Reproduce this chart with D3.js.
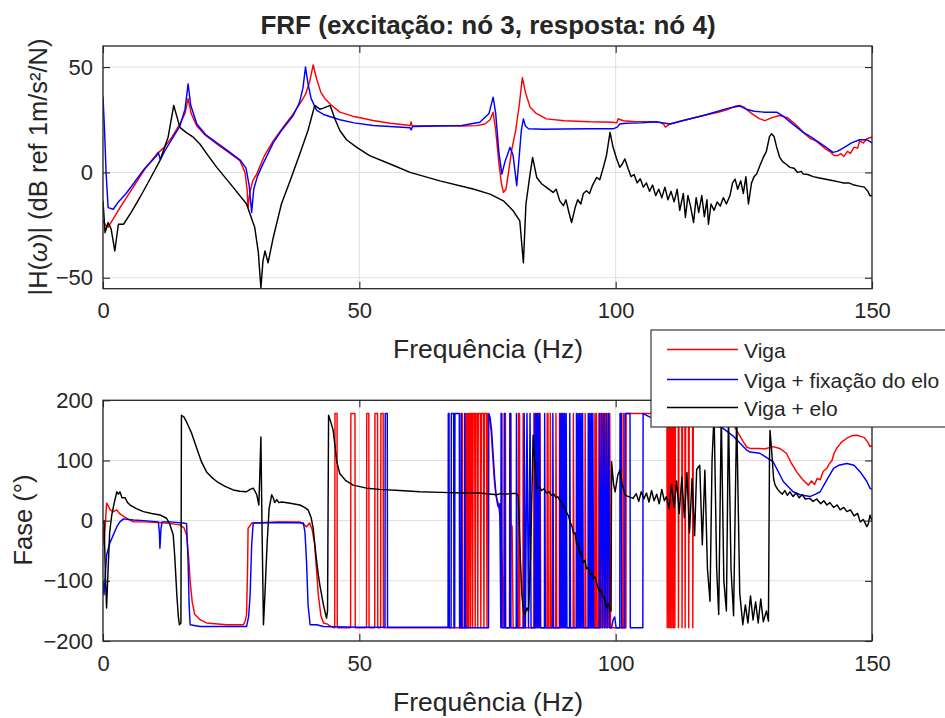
<!DOCTYPE html>
<html><head><meta charset="utf-8">
<script src="https://cdn.jsdelivr.net/npm/d3@7"></script>
<style>
body{margin:0;background:#fff}
svg{display:block}
text{font-family:"Liberation Sans",Arial,Helvetica,sans-serif;fill:#262626}
</style>
</head><body>
<svg id="c" width="945" height="718"></svg>
<script>
// ---------- data ----------
const xTicks = [0, 50, 100, 150];
const magTicks = [-50, 0, 50];
const phaseTicks = [-200, -100, 0, 100, 200];
const seriesNames = ["Viga", "Viga + fixação do elo", "Viga + elo"];
const titleText = "FRF (excitação: nó 3, resposta: nó 4)";
const xLabelText = "Frequência (Hz)";
const phaseLabelText = "Fase (°)";

// magnitude |H| in dB  [Hz, dB]
const magViga = [[0,-23],[0.5,-25],[1.0,-26],[2,-22],[3.5,-16],[5.9,-7],[8,1],[10.5,8.8],[12,12],[13.5,17],[15,23],[16.0,28],[16.6,35],[17.2,28],[18.3,22],[20,17.5],[22.2,13.5],[24.5,9.5],[26.7,5.6],[27.7,0],[28.1,-8],[28.3,-16.7],[28.6,-10],[29.2,-4],[30,-0.7],[31.5,8],[33.2,15],[35,21],[37.1,27.8],[38.5,33],[39.5,37],[40.3,43],[41.0,51],[41.6,45],[42.5,38],[43.3,35],[44.5,32],[46.2,28.6],[49,26.5],[52.7,24.6],[56,23.3],[59.2,22.5],[59.9,22.2],[60.1,24],[60.3,22],[65,22.2],[70,22],[72.9,22.2],[74.5,23],[75.5,25],[76.1,28.6],[76.6,20],[77.2,5],[77.7,-5],[78.1,-9.5],[78.6,-8],[79.1,0],[79.7,10.3],[80.5,20],[81.2,32],[81.8,45],[82.4,38],[83.3,31],[84.5,28],[86.5,25.4],[90,24.5],[95,24],[99.5,23.8],[100.2,23.5],[100.5,25.5],[100.8,25.1],[101.5,24.5],[104,24],[107,24],[108.5,23.8],[109.3,23],[109.7,21.5],[110.6,23],[113,24.5],[117.1,27],[120,28.5],[122,30],[123.5,31.5],[124.2,31.8],[125,31],[126.5,28],[128,25.5],[129.1,24.6],[130.5,26],[132,27],[133.5,26],[135,23],[136.6,19],[138,16],[139,15],[140,13],[141,11],[142,9.5],[142.6,8],[143.4,8],[143.9,9],[144.5,7.5],[145.2,10],[145.8,9],[146.5,12],[147.2,11.5],[147.6,15],[148.3,14],[149,16],[149.9,16.7],[150,16.5]];

const magFixacao = [[0,36],[0.3,20],[0.6,0],[1.0,-16.7],[2.0,-17.5],[3,-14],[4.5,-10],[5.9,-5.5],[8,1.5],[10.5,8],[10.8,9.5],[11.2,6],[12,10],[13.5,16],[15,22],[16.0,30],[16.6,42],[17.1,32],[18.3,23],[20,18],[22.2,14],[24.5,10],[26.7,6],[27.9,2],[28.5,-6],[29.0,-19],[29.4,-8],[30.1,-2],[31,3],[33.2,14],[35,20.5],[37.1,27],[38.3,33],[39.0,40],[39.5,50],[40.0,42],[40.6,35],[41.7,29.4],[43,27.5],[46.2,25],[49,23.5],[52.7,22.3],[56,21.8],[59.9,21.2],[60.1,20.2],[60.4,21.8],[65,22],[70,22.3],[73.5,23.8],[75.3,28],[76.1,35.7],[76.6,28],[77.2,10],[77.8,-0.8],[78.4,5],[79.4,11.9],[80.0,8],[80.7,-6.3],[81.1,5],[81.6,20],[82.0,25.4],[82.4,22],[83,20.7],[86,20.5],[90,20.6],[95,20.7],[99.5,20.7],[100.3,21.5],[100.8,23],[102,23.3],[105,23.5],[108,24],[110.6,23],[113,24.5],[117.1,27],[120,29],[122,30.5],[124.2,31.5],[125.5,30],[127,29],[129,28.6],[131.4,28.6],[132.5,27],[134,24],[136.6,19],[138,17],[139.5,14.5],[141,12],[142.4,9.5],[143.2,10],[144,11],[145,12.5],[146,14],[147.6,15.5],[149,15.5],[150,14]];

const magElo = [[0,-13.5],[0.4,-28.6],[1.0,-23.8],[1.6,-27],[2.3,-37.3],[3.0,-24.6],[4.0,-24.6],[5.5,-19],[7.2,-11.9],[9.2,-3],[11.1,5.6],[12.7,16.7],[13.8,31.8],[15.0,21.4],[16.2,19],[17.6,16.7],[18.9,13.5],[20.5,8],[22.2,2.4],[25.4,-7.1],[28.0,-15],[29.6,-26.2],[30.3,-38],[30.8,-55],[31.2,-42],[31.6,-37.3],[32.2,-42.9],[33.2,-31],[34.8,-15],[36.5,-4],[38.4,8.8],[40.0,20],[41.3,31.8],[42.3,30],[43,30.5],[44.3,31.8],[45.3,25],[46.2,19.9],[47.5,15.5],[49.5,11.9],[52,8],[56,4],[59.9,0],[65.7,-4],[72.2,-7.9],[75.5,-10.3],[78.1,-13.5],[80,-18.2],[81.3,-23],[82,-42.9],[82.5,-15],[83.3,-0.8],[83.8,7.1],[84.6,-2.4],[85.6,-5.5],[86.5,-7.1],[87.8,-9.5],[88.4,-8],[89.1,-13.5],[89.8,-15.8],[90.3,-13],[90.8,-18.2],[91.4,-23.8],[92.1,-16.7],[92.6,-13],[93.2,-15],[93.7,-10],[94.3,-8.7],[94.9,-10],[95.5,-6],[96.3,-2.4],[96.9,-3.5],[97.6,2.4],[98.2,8],[98.9,19],[99.5,11.9],[100.2,6.4],[100.8,2.4],[101.3,4],[101.8,6.4],[102.4,2],[103,-2],[103.6,-1],[104.2,-5],[104.8,-3],[105.4,-7],[106,-5],[106.6,-9],[107.2,-6],[107.8,-11],[108.4,-8],[109,-12],[109.6,-7],[110.2,-13],[110.8,-9],[111.4,-14],[112,-8],[112.5,-18],[113.2,-10],[113.6,-21.4],[114.1,-11],[114.6,-16],[115.2,-23.8],[115.7,-12],[116.2,-19],[116.8,-11],[117.3,-21],[117.8,-13],[118.1,-24.6],[118.6,-15],[119.2,-18],[119.8,-14],[120.4,-16],[121,-12],[121.6,-15],[122.3,-11],[122.8,-5],[123.3,-3.2],[123.8,-8],[124.4,-4],[124.9,-10],[125.4,-2],[125.9,-15],[126.5,-5],[127,-2],[127.5,-0.8],[128.1,3],[128.8,7.1],[129.4,10],[130,17],[130.4,18.3],[130.9,17],[131.4,12],[132,7.1],[132.6,5],[133.2,4],[134,2.4],[134.8,2],[135.5,0],[136.2,0.5],[136.6,-0.8],[137.5,-1],[138.5,-2],[139.5,-2.5],[140.5,-3],[141.5,-3.5],[142.5,-4],[143.5,-4.5],[144.5,-5],[145.5,-5],[146.5,-6],[147.5,-6.5],[148.5,-7],[149.2,-9],[149.6,-11.1],[150,-11]];

// phase in degrees  [Hz, deg]
const phaseViga = [[0,-10],[0.2,-40],[0.5,0],[0.7,29],[1.0,25],[1.4,18],[2.0,15],[2.7,18],[3.2,12],[4.0,7],[5.0,2],[5.9,-2],[8,-2],[10.5,-3],[12.4,-4],[15,-7],[15.8,-12],[16.3,-24],[16.7,-60],[17.0,-101],[17.4,-135],[17.9,-156],[19,-165],[20.2,-170],[24.1,-173],[27.4,-173],[27.8,-165],[28.0,-156],[28.2,-80],[28.3,-13],[29,-4],[34,-2],[38.4,-2],[39.7,-10],[40.3,-4],[40.8,-15],[41.3,-40],[42,-123],[42.5,-158],[43,-170],[43.8,-172],[44.4,-176],
[45.2,-178],[45.25,178],[45.65,178],[45.7,-178],
[48.3,-178],[48.35,178],[49.15,178],[49.2,-178],
[51.4,-178],[51.45,178],[51.85,178],[51.9,-178],
[53.0,-178],[53.05,178],[53.55,178],[53.6,-178],
[54.15,-178],[54.2,178],[54.65,178],[54.7,-178],
[66,-178],[69.9,-178],[69.95,178],[70.1,178],[70.15,-178],
[70.6,-178],[70.65,178],[70.8,-178],[70.95,178],[71.1,-178],[71.2,178],[71.35,-178],[71.45,178],[71.6,178],[71.7,-178],[71.8,178],[72.0,178],[72.1,-178],[72.2,178],[72.5,178],[72.6,-178],[72.7,178],[73.0,178],[73.1,-178],[73.2,178],[73.6,178],[73.7,-178],[73.8,178],[74.2,178],[74.3,-178],[74.4,178],[74.8,178],[74.9,-178],[75.0,178],[75.3,176],[75.7,150],[76.0,110],[76.3,70],[76.6,45],[76.9,35],[77.2,25],[77.5,0],[77.8,-60],[78.1,-150],[78.2,-178],[78.25,178],[78.5,178],[78.55,-178],[79.5,-178],[79.55,178],[79.6,-5],[79.8,-10],[80.0,-178],[81.0,-178],[81.05,178],[81.25,178],[81.3,-178],[81.9,-178],[81.95,178],[82.1,-178],
[84.0,-178],[84.05,178],[84.2,-178],[84.35,178],[84.5,-178],[84.65,178],[84.8,-178],[84.95,178],[85.1,-178],[85.25,178],[85.4,-178],[86.6,-178],[86.65,178],[86.8,178],[86.85,-178],[87.2,-178],[87.25,178],[87.45,-178],[88.3,-178],[88.35,178],[88.5,-178],[89.0,-178],[89.05,178],[89.2,-178],[89.35,178],[89.5,-178],[89.65,178],[89.8,-178],[89.95,178],[90.1,-178],[91.7,-178],[91.75,178],[91.9,-178],[94.0,-178],[94.05,178],[94.2,-178],[95.9,-178],[95.95,178],[96.1,-178],[96.25,178],[96.4,-178],[96.7,-178],[96.75,178],[96.9,-178],[97.05,178],[97.2,-178],[97.35,178],[97.5,-178],[97.65,178],[97.8,-178],[97.95,178],[98.1,-178],[98.25,178],[98.4,-178],[98.55,178],[98.7,-178],[98.85,178],[99.0,-178],[101.4,-178],[101.45,178],[101.6,178],[101.65,-178],[102.0,-178],[102.05,178],[106,178],
[110.0,178],[110.05,-178],[110.15,178],[110.3,178],[110.35,-178],[110.45,178],[110.6,178],[110.65,-178],[110.75,178],[110.9,178],[110.95,-178],[111.05,178],[111.2,178],[111.25,-178],[111.35,178],[111.5,178],[111.55,-178],[111.65,178],[112.2,178],[112.25,-178],[112.35,178],[112.9,178],[112.95,-178],[113.05,178],[113.5,178],[113.55,-178],[113.65,178],[114.2,178],[114.25,-178],[114.35,178],[115.0,178],[115.05,-178],[115.15,178],[116,178],
[120,177],[122.9,160],[123.6,150],[124.9,131],[125.6,122],[126.2,120],[128.1,120],[129,119],[130.7,123],[132,120],[133.3,112],[134.3,95],[135.3,81],[136.5,68],[137.6,59],[138.2,66],[138.8,60],[139.3,70],[139.9,68],[140.5,82],[141.2,87],[141.7,95],[142.2,100],[142.6,112],[143.1,120],[144,130],[145.1,137],[146,141],[147,142],[147.8,140],[148.5,138],[149.2,130],[149.6,123],[150,125]];

const phaseFixacao = [[0,-100],[0.2,-123],[0.7,-57],[1.3,-38],[2.0,-24],[2.7,-10],[3.3,-2],[4.0,3],[5.9,1],[8,0],[10.8,-2],[11.0,-20],[11.1,-46],[11.3,-15],[11.5,-2],[13,-2],[15.7,-4],[16.3,-5],[16.6,-68],[16.8,-140],[17.0,-173],[18.9,-176],[28,-176],[28.4,-160],[28.7,-123],[29.0,-40],[29.3,-4],[35,-3],[39.1,-4],[39.4,-20],[39.7,-68],[40.0,-140],[40.4,-173],[41.7,-173],[43,-176],[50,-177],
[55.0,-177],[55.05,178],[55.45,178],[55.5,-177],[66,-177],
[67.3,-177],[67.35,178],[67.5,178],[67.55,-178],[67.9,-178],[67.95,178],[68.4,178],[68.45,-178],[68.6,-178],[68.65,178],[69.5,178],[69.55,-178],[69.8,-178],[69.85,178],[70.0,-178],[70.5,-178],[70.55,178],[70.7,-178],
[75.2,-178],[75.25,178],[75.5,172],[75.8,150],[76.1,110],[76.4,70],[76.7,40],[77.0,25],[77.2,22],[77.4,28],[77.6,-178],[77.65,178],[77.8,178],[77.85,-178],[78.3,-178],[78.35,178],[78.5,-178],[79.3,-178],[79.35,178],[79.5,178],[79.55,-178],[80.6,-178],[80.65,178],[80.8,-178],[82.1,-178],[82.15,178],[82.4,-178],[82.7,178],[83.0,-178],[83.3,178],[83.5,-178],
[84.2,-178],[84.25,178],[84.4,-178],[84.55,178],[84.7,-178],[84.85,178],[85.0,-178],[85.15,178],[85.3,-178],[86.1,-178],[86.15,178],[86.3,-178],[87.7,-178],[87.75,178],[87.9,-178],
[89.1,-178],[89.15,178],[89.3,-178],[89.45,178],[89.6,-178],[89.75,178],[89.9,-178],[90.05,178],[90.2,-178],[90.35,178],[90.5,-178],[91.0,-178],[91.05,178],[91.2,-178],
[92.3,-178],[92.35,178],[92.5,-178],[92.65,178],[92.8,-178],[92.95,178],[93.1,-178],[93.25,178],[93.4,-178],[93.55,178],[93.7,-178],
[94.6,-178],[94.65,178],[94.8,-178],[94.95,178],[95.1,-178],[95.25,178],[95.4,-178],[95.55,178],[95.7,-178],
[96.8,-178],[96.85,178],[97.0,-178],[97.3,178],[97.45,-178],[97.75,178],[97.9,-178],[98.2,178],[98.35,-178],[98.65,178],[98.8,-178],
[99.2,-178],[99.5,-165],[99.8,-160],[100.1,-178],[100.8,-178],[100.85,178],[101.1,178],[101.15,-178],[101.8,-178],[101.85,178],[102.8,178],[102.85,-178],[105.3,-178],[105.35,178],[106.7,172],[110,167],[115,161],[118,158],[120.7,155],[123,140],[125.6,117],[126.2,114],[128.1,112],[130.7,98],[132.7,65],[134.6,48],[136,43],[137.9,40],[139,44],[139.9,48],[141,65],[142.5,87],[143.5,92],[145.1,95],[146.5,92],[147.7,81],[149,65],[149.6,54],[150,52]];

const phaseElo = [[0,-5],[0.2,0],[0.5,-100],[0.7,-145],[1.0,-80],[1.3,-20],[1.7,9],[2.2,30],[2.7,48],[3.0,44],[3.3,48],[3.7,38],[4.3,38],[4.8,30],[5.3,26],[6.5,20],[7.9,15],[9.5,12],[11.1,9.5],[12.4,4],[13.0,-5],[13.7,-24],[14.0,-60],[14.4,-123],[14.7,-160],[14.9,-173],[15.2,-170],[15.3,175],[15.8,172],[16.3,164],[17.3,145],[18.3,120],[19.2,98],[20.2,81],[21.2,72],[22.2,65],[23.8,57],[25.4,51],[26.7,49],[28,48],[28.7,52],[29.3,54],[29.7,48],[30,43],[30.4,26],[30.6,80],[30.8,139],[31.0,0],[31.3,-173],[31.6,-120],[32.0,-40],[32.4,20],[32.9,43],[33.2,38],[33.5,30],[33.9,35],[34.3,30],[34.9,31],[36.5,29],[38.4,26],[39.3,22],[40,18],[40.6,5],[41.0,-13],[41.5,-55],[42.0,-90],[42.3,-107],[43.0,-140],[43.6,-162],[43.8,-150],[44.0,175],[44.4,165],[44.9,150],[45.3,120],[45.6,98],[46.2,78],[47.3,67],[48.8,59],[51.4,54],[54,52],[57.9,50],[61.8,48],[66,47],[70,46],[73.5,46],[76.8,43],[77.5,45],[78.5,44],[79.5,45],[80.7,45],[81.0,40],[81.4,-60],[81.7,-123],[82.0,-150],[82.3,-156],[82.7,-145],[83.0,-150],[83.4,-60],[83.9,142],[84.2,100],[84.6,54],[85.2,56],[85.5,50],[86.0,53],[86.5,46],[87.0,48],[87.5,42],[88.0,44],[88.3,38],[88.7,40],[89.1,34],[89.5,30],[89.8,24],[90.2,20],[90.5,12],[90.8,8],[91.1,-2],[91.5,-10],[91.8,-22],[92.1,-20],[92.4,-40],[92.7,-38],[93.0,-55],[93.3,-52],[93.6,-70],[94.0,-66],[94.3,-80],[94.7,-78],[95.0,-90],[95.3,-86],[95.6,-96],[96.0,-94],[96.3,-104],[96.6,-112],[96.9,-118],[97.2,-115],[97.5,-128],[97.8,-126],[98.2,-145],[98.6,-138],[98.9,-150],[99.1,-150],[99.2,98],[99.6,60],[99.9,48],[100.4,75],[100.8,84],[101.3,60],[101.8,43],[102.5,40],[103.4,37],[104.0,45],[104.5,32],[105.0,48],[105.5,36],[106.0,46],[106.5,31],[107.0,50],[107.5,33],[108.0,44],[108.5,28],[109.0,52],[109.5,33],[109.9,40],[110.4,20],[110.9,60],[111.4,22],[111.9,66],[112.4,12],[112.9,72],[113.4,5],[113.9,80],[114.4,-20],[114.9,70],[115.4,-25],[115.8,85],[116.4,92],[116.9,-40],[117.4,84],[117.9,-80],[118.4,-134],[118.8,100],[119.2,178],[119.7,-80],[120.1,-156],[120.6,178],[121.1,-100],[121.6,-150],[122.0,178],[122.5,-80],[123.0,-158],[123.6,178],[124.2,-120],[124.8,-173],[125.3,-140],[125.8,-170],[126.3,-125],[126.8,-165],[127.3,-135],[127.8,-170],[128.3,-130],[128.8,-168],[129.4,-150],[129.8,-167],[130.0,100],[130.1,150],[130.4,120],[130.8,70],[131.1,59],[131.6,52],[132,48],[132.5,44],[133,50],[133.5,42],[134,48],[134.6,40],[135.2,46],[135.8,38],[136.4,43],[137,36],[137.9,37],[138.5,32],[139.2,36],[140,28],[140.6,33],[141.2,26],[141.8,30],[142.5,22],[143.2,26],[143.8,18],[144.5,22],[145.1,15],[145.8,18],[146.5,8],[147.2,12],[147.7,-2],[148.3,2],[149.0,-10],[149.3,-5],[149.6,9],[150,0]];

const magSeries = [magViga, magFixacao, magElo];
const phaseSeries = [phaseViga, phaseFixacao, phaseElo];

// ---------- style / layout ----------
const colors = ["#ff0000", "#0000ff", "#000000"];
const axisColor = "#262626";
const gridColor = "#dfdfdf";
const L = 103, R = 872;
const top1 = 46, bot1 = 288.7, top2 = 400.3, bot2 = 641;

const svg = d3.select("#c");
const x = d3.scaleLinear().domain([0, 150]).range([L, R]);
const yMag = d3.scaleLinear().domain([-55.2, 60]).range([bot1, top1]);
const yPh = d3.scaleLinear().domain([-200, 200]).range([bot2, top2]);

function panel(y, yTicks, data, topY, botY, id) {
  const g = svg.append("g");
  g.append("g").selectAll("line").data(xTicks).join("line")
    .attr("x1", d => x(d)).attr("x2", d => x(d)).attr("y1", topY).attr("y2", botY)
    .attr("stroke", gridColor).attr("stroke-width", 1);
  g.append("g").selectAll("line").data(yTicks).join("line")
    .attr("x1", L).attr("x2", R).attr("y1", d => y(d)).attr("y2", d => y(d))
    .attr("stroke", gridColor).attr("stroke-width", 1);
  svg.append("clipPath").attr("id", id).append("rect")
    .attr("x", L).attr("y", topY).attr("width", R - L).attr("height", botY - topY);
  const line = d3.line().x(d => x(d[0])).y(d => y(d[1]));
  const lg = g.append("g").attr("clip-path", `url(#${id})`);
  data.forEach((s, i) => {
    lg.append("path").attr("d", line(s)).attr("fill", "none")
      .attr("stroke", colors[i]).attr("stroke-width", 1.45)
      .attr("stroke-linejoin", "round");
  });
  const ax = (a, tx) => {
    const s = g.append("g").attr("transform", tx).call(a);
    s.select(".domain").remove();
    s.selectAll(".tick line").attr("stroke", axisColor).attr("stroke-width", 1.1);
    s.selectAll("text").attr("font-size", 22).attr("fill", axisColor)
      .style("font-family", '"Liberation Sans", Arial, sans-serif');
    return s;
  };
  ax(d3.axisBottom(x).tickValues(xTicks).tickSizeInner(-7).tickSizeOuter(0).tickPadding(14).tickFormat(d3.format("d")), `translate(0,${botY})`);
  ax(d3.axisTop(x).tickValues(xTicks).tickSizeInner(-7).tickSizeOuter(0).tickFormat(""), `translate(0,${topY})`);
  ax(d3.axisLeft(y).tickValues(yTicks).tickSizeInner(-7).tickSizeOuter(0).tickPadding(10).tickFormat(d3.format("d")), `translate(${L},0)`);
  ax(d3.axisRight(y).tickValues(yTicks).tickSizeInner(-7).tickSizeOuter(0).tickFormat(""), `translate(${R},0)`);
  g.append("rect").attr("x", L).attr("y", topY).attr("width", R - L).attr("height", botY - topY)
    .attr("fill", "none").attr("stroke", axisColor).attr("stroke-width", 1.3);
}

panel(yMag, magTicks, magSeries, top1, bot1, "clipMag");
panel(yPh, phaseTicks, phaseSeries, top2, bot2, "clipPh");

svg.append("text").attr("x", 488).attr("y", 34).attr("text-anchor", "middle")
  .attr("font-size", 26).attr("font-weight", "bold").attr("fill", "#000").text(titleText);
svg.append("text").attr("x", 488).attr("y", 358).attr("text-anchor", "middle")
  .attr("font-size", 26.5).text(xLabelText);
svg.append("text").attr("x", 488).attr("y", 711).attr("text-anchor", "middle")
  .attr("font-size", 26.5).text(xLabelText);
const yl = svg.append("text").attr("transform", "translate(47,167) rotate(-90)")
  .attr("text-anchor", "middle").attr("font-size", 25.5);
yl.append("tspan").text("|H(");
yl.append("tspan").attr("font-style", "italic").text("ω");
yl.append("tspan").text(")| (dB ref 1m/s²/N)");
svg.append("text").attr("transform", "translate(32,520) rotate(-90)")
  .attr("text-anchor", "middle").attr("font-size", 25.5).text(phaseLabelText);

const lgd = svg.append("g");
lgd.append("rect").attr("x", 651).attr("y", 330).attr("width", 320).attr("height", 97)
  .attr("fill", "#fff").attr("stroke", axisColor).attr("stroke-width", 1.1);
const rowsY = [349.5, 379.5, 407.5];
seriesNames.forEach((n, i) => {
  lgd.append("line").attr("x1", 667).attr("x2", 738).attr("y1", rowsY[i]).attr("y2", rowsY[i])
    .attr("stroke", colors[i]).attr("stroke-width", 1.3);
  lgd.append("text").attr("x", 744).attr("y", rowsY[i] + 8).attr("font-size", 21).text(n);
});
</script>
</body></html>
